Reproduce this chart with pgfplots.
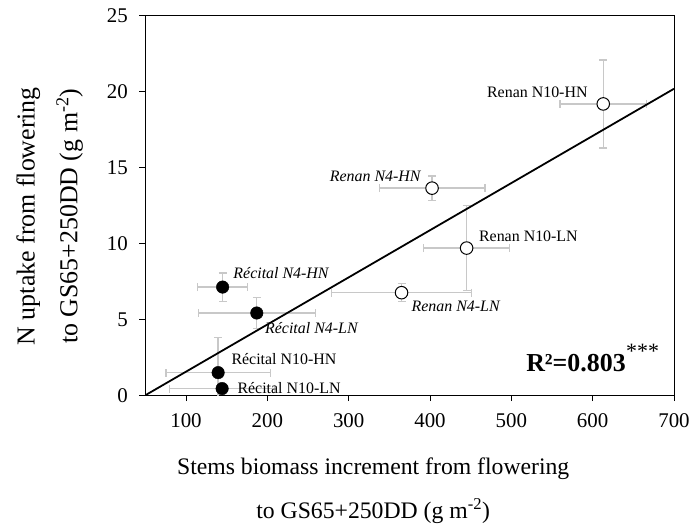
\documentclass[border=0pt]{standalone}
\usepackage{pgfplots}
\pgfplotsset{compat=1.18}
\usepackage{fontspec}
\setmainfont{Liberation Serif}
\definecolor{errgray}{RGB}{200,200,200}
\begin{document}
\begin{tikzpicture}
\begin{axis}[
  at={(0,0)}, anchor=south west,
  scale only axis, width=531pt, height=381pt,
  xmin=50, xmax=700, ymin=0, ymax=25,
  xtick={100,200,...,700}, ytick={0,5,...,25},
  tick align=outside, major tick length=6pt,
  xtick pos=bottom, ytick pos=left,
  axis line style={line width=1pt},
  tick style={line width=1pt, black},
  ticklabel style={font=\fontsize{21}{24}\selectfont},
  xticklabel style={yshift=-9pt},
  yticklabel style={xshift=-8pt},
  /pgf/number format/assume math mode=true,
  xlabel={Stems biomass increment from flowering\\to GS65+250DD (g m\textsuperscript{-2})},
  ylabel={N uptake from flowering\\to GS65+250DD (g m\textsuperscript{-2})},
  xlabel style={at={(axis description cs:0.431,-0.252)}, anchor=center, align=center, font=\fontsize{23.8}{44}\selectfont},
  ylabel style={at={(axis description cs:-0.181,0.472)}, anchor=center, align=center, font=\fontsize{26}{43}\selectfont},
]
% Renan (open circles)
\addplot[only marks, mark=*, mark size=6.3pt, mark options={fill=white, draw=black, line width=1pt},
  error bars/.cd, x dir=both, x explicit, y dir=both, y explicit,
  error bar style={errgray, line width=1.3pt},
  error mark options={errgray, line width=1.3pt, mark size=4pt, rotate=90}]
  coordinates {
  (613,19.2) +- (53,2.9)
  (402.5,13.65) +- (65,0.8)
  (445,9.7) +- (53,2.8)
  (365,6.76) +- (86,0.6)
  };
% Recital (filled circles)
\addplot[only marks, mark=*, mark size=6.3pt, mark options={fill=black, draw=black},
  error bars/.cd, x dir=both, x explicit, y dir=both, y explicit,
  error bar style={errgray, line width=1.3pt},
  error mark options={errgray, line width=1.3pt, mark size=4pt, rotate=90}]
  coordinates {
  (145,7.13) +- (31,0.93)
  (187,5.42) +- (72,1.0)
  (139.5,1.49) +- (64,2.3)
  (144.4,0.44) +- (64.6,0.2)
  };
% regression line
\addplot[black, line width=1.8pt] coordinates {(50,0) (700,20.2)};
\node[anchor=east, font=\fontsize{16}{18}\selectfont] at (axis cs:598,19.95) {Renan N10-HN};
\node[anchor=east, font=\fontsize{16}{18}\selectfont\itshape] at (axis cs:392.7,14.44) {Renan N4-HN};
\node[anchor=west, font=\fontsize{16}{18}\selectfont] at (axis cs:456,10.5) {Renan N10-LN};
\node[anchor=west, font=\fontsize{16}{18}\selectfont\itshape] at (axis cs:373,5.84) {Renan N4-LN};
\node[anchor=west, font=\fontsize{16}{18}\selectfont\itshape] at (axis cs:154,8.07) {Récital N4-HN};
\node[anchor=west, font=\fontsize{16}{18}\selectfont\itshape] at (axis cs:193,4.4) {Récital N4-LN};
\node[anchor=west, font=\fontsize{16}{18}\selectfont] at (axis cs:151.6,2.36) {Récital N10-HN};
\node[anchor=west, font=\fontsize{16}{18}\selectfont] at (axis cs:159,0.45) {Récital N10-LN};
\node[anchor=west, font=\bfseries\fontsize{26}{30}\selectfont] at (axis cs:514,2.1) {R²=0.803};
\node[anchor=west, inner sep=0pt, font=\fontsize{22}{24}\selectfont] at (axis cs:641,2.9) {***};
\end{axis}
\path (-146pt,-132pt) rectangle (547pt,397pt);
\end{tikzpicture}
\end{document}
